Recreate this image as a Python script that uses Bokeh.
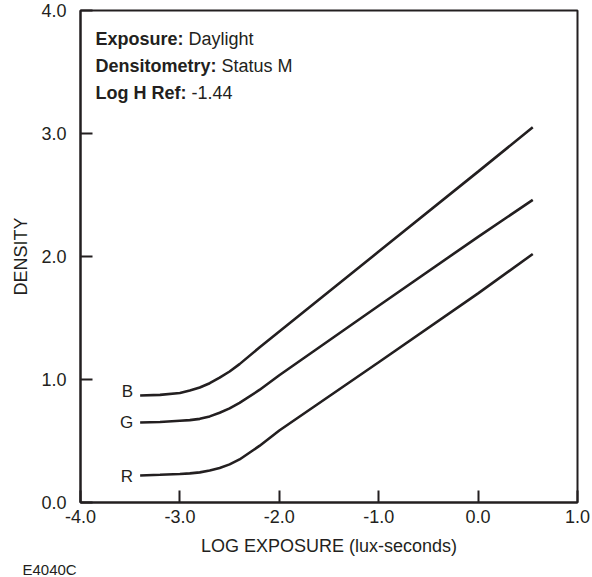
from bokeh.plotting import figure
from bokeh.models import Range1d, FixedTicker, Title
from bokeh.embed import file_html
from bokeh.resources import INLINE
from bokeh.core.properties import value

# ---- data ----
log_exposure = [-3.4, -3.2, -3.0, -2.9, -2.8, -2.7, -2.6, -2.5, -2.4, -2.2, -2.0, -1.0, 0.0, 0.55]
density_b = [0.87, 0.875, 0.89, 0.91, 0.935, 0.97, 1.015, 1.065, 1.125, 1.26, 1.39, 2.04, 2.69, 3.05]
density_g = [0.65, 0.655, 0.665, 0.67, 0.68, 0.70, 0.73, 0.765, 0.81, 0.915, 1.035, 1.60, 2.16, 2.46]
density_r = [0.22, 0.225, 0.232, 0.237, 0.245, 0.26, 0.28, 0.31, 0.35, 0.46, 0.585, 1.14, 1.70, 2.02]
curve_names = ["B", "G", "R"]

x_ticks = [-4.0, -3.0, -2.0, -1.0, 0.0, 1.0]
x_tick_labels = ["-4.0", "-3.0", "-2.0", "-1.0", "0.0", "1.0"]
y_ticks = [0.0, 1.0, 2.0, 3.0, 4.0]
y_tick_labels = ["0.0", "1.0", "2.0", "3.0", "4.0"]

info_keys = ["Exposure:", "Densitometry:", "Log H Ref:"]
info_values = ["Daylight", "Status M", "-1.44"]

x_title = "LOG EXPOSURE (lux-seconds)"
y_title = "DENSITY"
figure_code = "E4040C"

# ---- styling ----
INK = "#231f20"
FONT = "Liberation Sans"

p = figure(width=592, height=577, output_backend="svg", toolbar_location=None,
           x_range=Range1d(-4.0, 1.0), y_range=Range1d(0.0, 4.0),
           min_border_left=80, min_border_right=15, min_border_top=10, min_border_bottom=74)
p.background_fill_color = "white"
p.border_fill_color = "white"
p.outline_line_color = INK
p.outline_line_width = 2
p.xgrid.visible = False
p.ygrid.visible = False

for ax, ticks, labels in ((p.xaxis[0], x_ticks, x_tick_labels), (p.yaxis[0], y_ticks, y_tick_labels)):
    ax.ticker = FixedTicker(ticks=ticks)
    ax.major_label_overrides = {t: l for t, l in zip(ticks, labels)}
    ax.major_tick_in = 12
    ax.major_tick_out = 0
    ax.minor_tick_line_color = None
    ax.axis_line_color = INK
    ax.axis_line_width = 2
    ax.major_tick_line_color = INK
    ax.major_tick_line_width = 2
    ax.major_label_text_font = FONT
    ax.major_label_text_font_size = "18px"
    ax.major_label_text_color = INK
    ax.axis_label_text_font = FONT
    ax.axis_label_text_font_size = "18px"
    ax.axis_label_text_font_style = "normal"
    ax.axis_label_text_color = INK

p.xaxis.axis_label = x_title
p.xaxis.major_label_standoff = 7
p.xaxis.axis_label_standoff = 10
p.yaxis.axis_label = y_title
p.yaxis.major_label_standoff = 14
p.yaxis.axis_label_standoff = 7

series = [density_b, density_g, density_r]
for name, dens in zip(curve_names, series):
    p.line(log_exposure, dens, line_color=INK, line_width=2.6)

# curve letters at the start of each curve
label_offsets = [-4, 0, 1]
for name, dens, yo in zip(curve_names, series, label_offsets):
    p.text(x=[log_exposure[0]], y=[dens[0]], text=[name], text_align="right",
           text_baseline="middle", x_offset=-7, y_offset=yo,
           text_font=value(FONT), text_font_size="17px", text_color=INK)

# info block
info_y = [3.77, 3.55, 3.33]
key_widths = [93, 126, 96]
for k, v, yy, kw in zip(info_keys, info_values, info_y, key_widths):
    p.text(x=[-3.85], y=[yy], text=[k], text_align="left", text_baseline="middle",
           text_font=value(FONT), text_font_size="18px", text_font_style="bold", text_color=INK)
    p.text(x=[-3.85], y=[yy], text=[v], text_align="left", text_baseline="middle", x_offset=kw,
           text_font=value(FONT), text_font_size="18px", text_color=INK)

code_title = Title(text=figure_code, align="left", offset=-58, standoff=0,
                   text_font=FONT, text_font_size="15px", text_font_style="normal",
                   text_color=INK)
p.add_layout(code_title, "below")

open("out.html", "w").write(file_html(p, INLINE))
